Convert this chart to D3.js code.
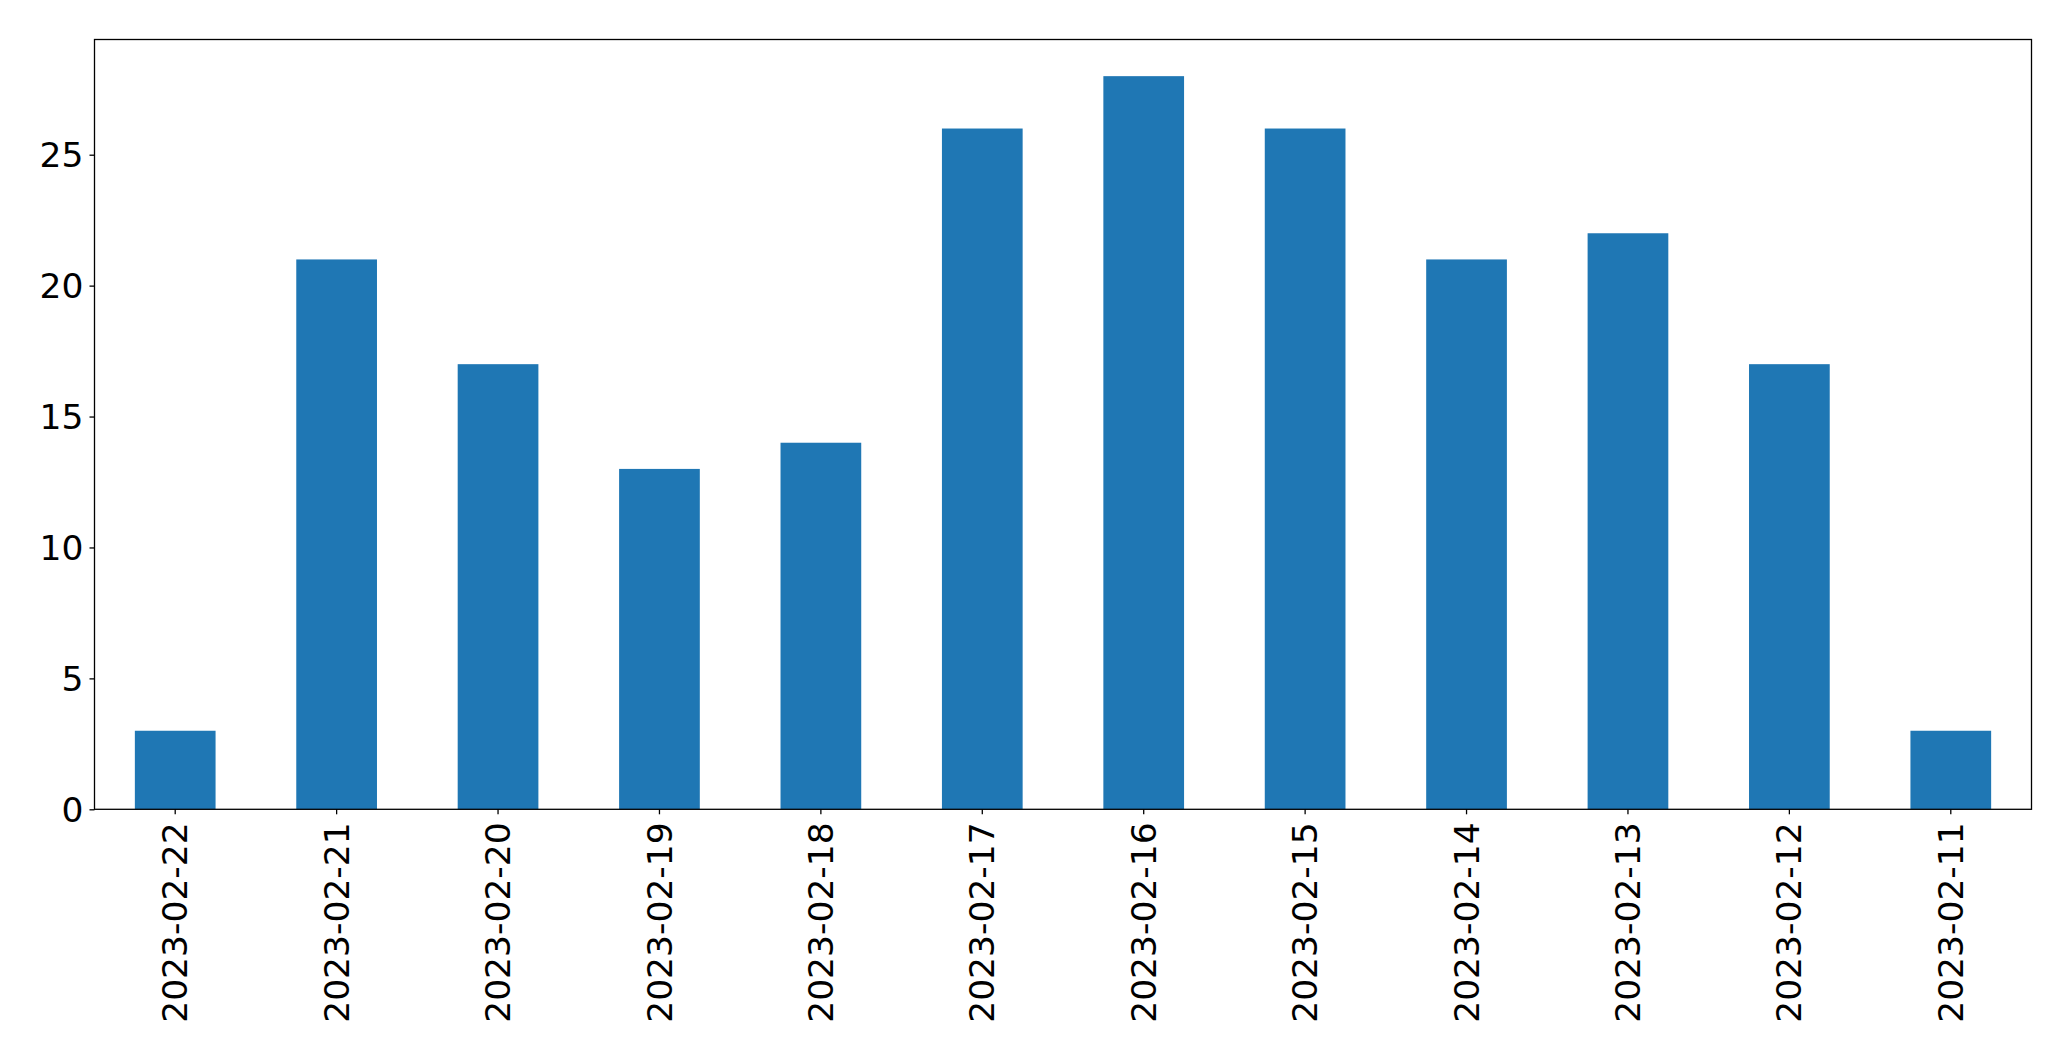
<!DOCTYPE html>
<html><head><meta charset="utf-8">
<script src="https://cdn.jsdelivr.net/npm/d3@7"></script>
<style>body{margin:0;background:#fff}svg{display:block}</style>
</head><body>
<script>
const categories = ["2023-02-22","2023-02-21","2023-02-20","2023-02-19","2023-02-18","2023-02-17","2023-02-16","2023-02-15","2023-02-14","2023-02-13","2023-02-12","2023-02-11"];
const values = [3,21,17,13,14,26,28,26,21,22,17,3];
const yTicks = [0,5,10,15,20,25];

const W = 2071, H = 1061;
const m = {left:94.5, right:2031.5, top:39.5, bottom:809.3};
const svg = d3.select("body").append("svg").attr("width",W).attr("height",H);

const x = d3.scaleBand().domain(categories).range([m.left, m.right]).paddingInner(0.5).paddingOuter(0.25);
const y = d3.scaleLinear().domain([0, d3.max(values)*1.05]).range([m.bottom, m.top]);

svg.append("g").selectAll("rect").data(values).join("rect")
  .attr("x",(d,i)=>x(categories[i]))
  .attr("width",x.bandwidth())
  .attr("y",d=>y(d))
  .attr("height",d=>y(0)-y(d))
  .attr("fill","#1f77b4");

const font = "DejaVu Sans, sans-serif";
const fs = 34.5;

const gx = svg.append("g").attr("transform",`translate(0,${m.bottom})`)
  .call(d3.axisBottom(x).tickSize(5).tickSizeOuter(0));
gx.select(".domain").remove();
gx.selectAll(".tick line").attr("stroke","#000").attr("stroke-width",1.3);
gx.selectAll(".tick text")
  .attr("font-family",font).attr("font-size",fs).attr("fill","#000")
  .attr("transform","rotate(-90)")
  .attr("text-anchor","end")
  .attr("x",-13).attr("y",0).attr("dy","0.35em");

const gy = svg.append("g").attr("transform",`translate(${m.left},0)`)
  .call(d3.axisLeft(y).tickValues(yTicks).tickSize(5).tickSizeOuter(0));
gy.select(".domain").remove();
gy.selectAll(".tick line").attr("stroke","#000").attr("stroke-width",1.3);
gy.selectAll(".tick text")
  .attr("font-family",font).attr("font-size",fs).attr("fill","#000")
  .attr("x",-11).attr("dy","0.35em");

svg.append("rect").attr("x",m.left).attr("y",m.top)
  .attr("width",m.right-m.left).attr("height",m.bottom-m.top)
  .attr("fill","none").attr("stroke","#000").attr("stroke-width",1.3);
</script>
</body></html>
